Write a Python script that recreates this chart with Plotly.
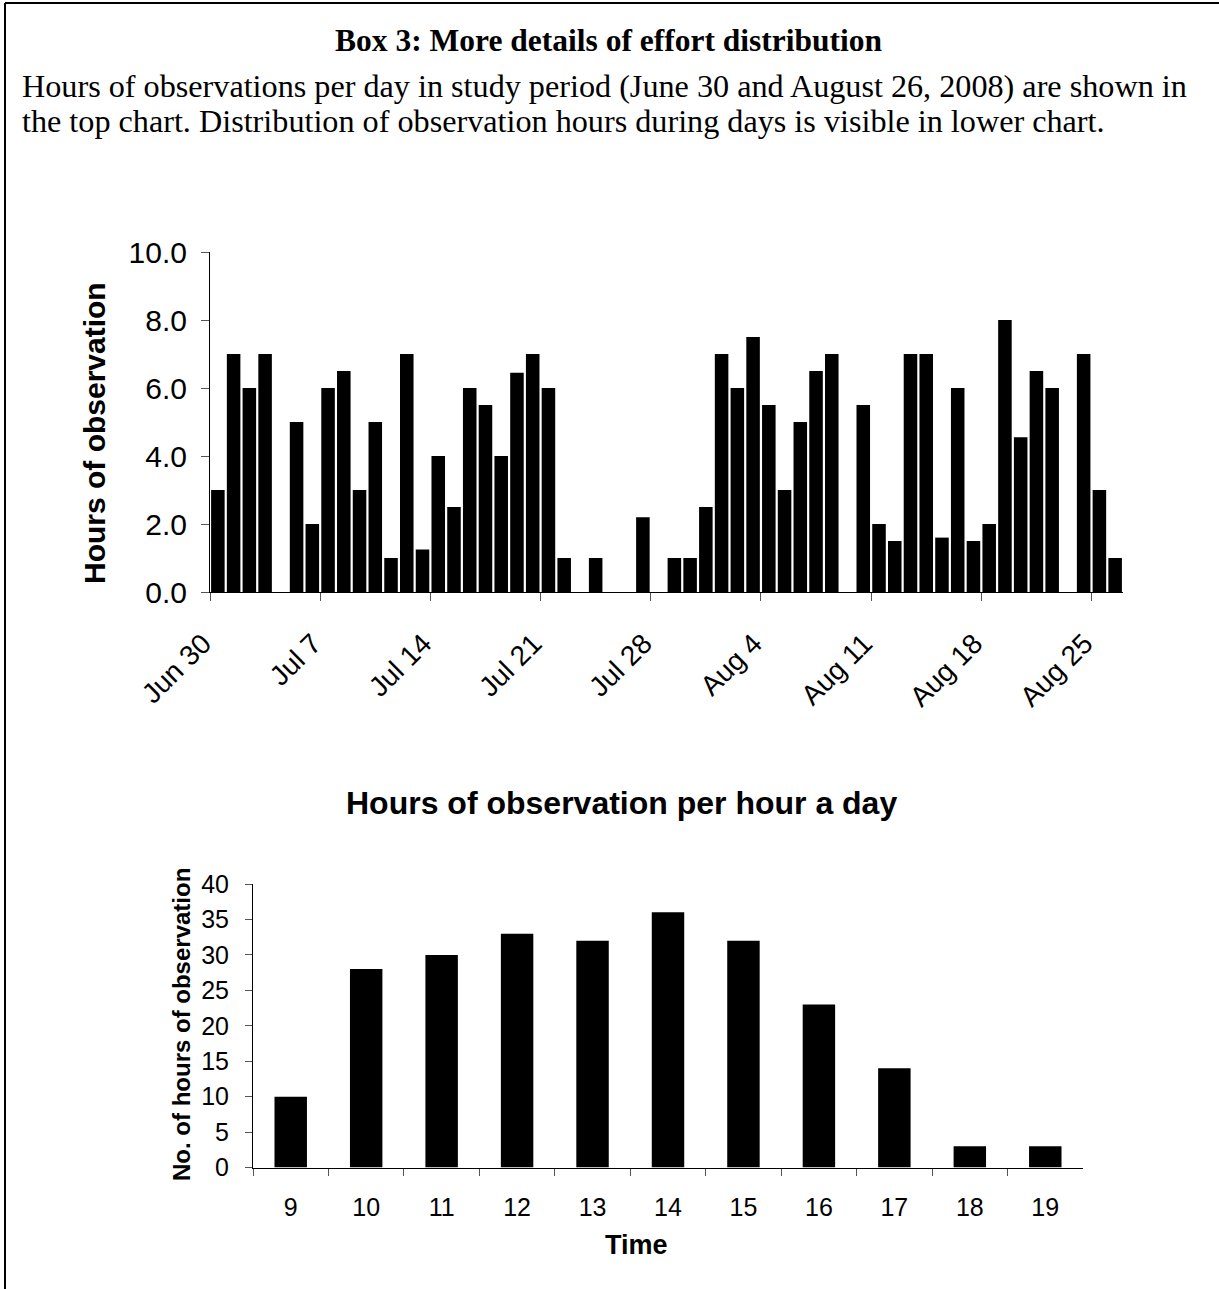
import pandas as pd
import plotly.graph_objects as go

W, H = 1219, 1289

# ---- daily effort, 30 Jun - 26 Aug 2008 ----
days = pd.date_range("2008-06-30", "2008-08-26", freq="D")
daily_hours = [
    3.0, 7.0, 6.0, 7.0, 0.0, 5.0, 2.0,      # Jun 30 - Jul 6
    6.0, 6.5, 3.0, 5.0, 1.0, 7.0, 1.25,     # Jul 7 - Jul 13
    4.0, 2.5, 6.0, 5.5, 4.0, 6.45, 7.0,     # Jul 14 - Jul 20
    6.0, 1.0, 0.0, 1.0, 0.0, 0.0, 2.2,      # Jul 21 - Jul 27
    0.0, 1.0, 1.0, 2.5, 7.0, 6.0, 7.5,      # Jul 28 - Aug 3
    5.5, 3.0, 5.0, 6.5, 7.0, 0.0, 5.5,      # Aug 4 - Aug 10
    2.0, 1.5, 7.0, 7.0, 1.6, 6.0, 1.5,      # Aug 11 - Aug 17
    2.0, 8.0, 4.55, 6.5, 6.0, 0.0, 7.0,     # Aug 18 - Aug 24
    3.0, 1.0,                               # Aug 25 - Aug 26
]
week_ticks = ["2008-06-30", "2008-07-07", "2008-07-14", "2008-07-21", "2008-07-28",
              "2008-08-04", "2008-08-11", "2008-08-18", "2008-08-25"]
week_labels = ["Jun 30", "Jul 7", "Jul 14", "Jul 21", "Jul 28",
               "Aug 4", "Aug 11", "Aug 18", "Aug 25"]

# ---- observation hours by hour of day ----
hour_of_day = ["9", "10", "11", "12", "13", "14", "15", "16", "17", "18", "19"]
hours_per_hour = [10, 28, 30, 33, 32, 36, 32, 23, 14, 3, 3]

SANS = "Liberation Sans, Arial, sans-serif"
SERIF = "Liberation Serif, Times New Roman, serif"


def fx(p):
    return p / W


def fy(p):
    return 1 - p / H


fig = go.Figure()

fig.add_trace(go.Bar(
    x=days, y=daily_hours,
    xperiod=86400000, xperiodalignment="middle",
    width=0.86 * 86400000,
    marker=dict(color="black", line=dict(width=0)),
    xaxis="x", yaxis="y", showlegend=False,
))

fig.add_trace(go.Bar(
    x=hour_of_day, y=hours_per_hour,
    width=0.43,
    marker=dict(color="black", line=dict(width=0)),
    xaxis="x2", yaxis="y2", showlegend=False,
))

axis_common = dict(showgrid=False, zeroline=False, showline=True,
                   linecolor="black", linewidth=1, ticks="outside",
                   tickcolor="#555555", tickwidth=1, automargin=False)

fig.update_layout(
    width=W, height=H, autosize=False,
    margin=dict(l=0, r=0, t=0, b=0, pad=0),
    paper_bgcolor="white", plot_bgcolor="white",
    showlegend=False,
    xaxis=dict(
        domain=[fx(210), fx(1123)], anchor="y", type="date",
        range=["2008-06-30", "2008-08-27"],
        tickmode="array", tickvals=week_ticks, ticktext=week_labels,
        tickangle=-45, ticklen=8, ticklabelstandoff=15, ticklabelshift=-7,
        tickfont=dict(family=SANS, size=28, color="black"),
        **axis_common,
    ),
    yaxis=dict(
        domain=[fy(592), fy(252)], anchor="x",
        range=[0, 10], dtick=2, tick0=0, tickformat=".1f", ticklen=8,
        ticklabelstandoff=8,
        tickfont=dict(family=SANS, size=30, color="black"),
        **axis_common,
    ),
    xaxis2=dict(
        domain=[fx(253), fx(1083)], anchor="y2", type="category",
        range=[-0.5, 10.5], tickson="boundaries", ticklen=7,
        ticklabelstandoff=17,
        tickfont=dict(family=SANS, size=25, color="black"),
        **axis_common,
    ),
    yaxis2=dict(
        domain=[fy(1167.6), fy(884)], anchor="x2",
        range=[0, 40], dtick=5, tick0=0, ticklen=7,
        ticklabelstandoff=11,
        tickfont=dict(family=SANS, size=25, color="black"),
        **axis_common,
    ),
)

notes = [
    dict(text="<b>Box 3: More details of effort distribution</b>",
         x=fx(609), y=fy(40), xanchor="center", yanchor="middle",
         font=dict(family=SERIF, size=31.5, color="black")),
    dict(text="Hours of observations per day in study period (June 30 and August 26, 2008) are shown in",
         x=fx(20), y=fy(86), xanchor="left", yanchor="middle",
         font=dict(family=SERIF, size=32.2, color="black")),
    dict(text="the top chart. Distribution of observation hours during days is visible in lower chart.",
         x=fx(20), y=fy(120.5), xanchor="left", yanchor="middle",
         font=dict(family=SERIF, size=32.2, color="black")),
    dict(text="<b>Hours of observation</b>",
         x=fx(94), y=fy(433), xanchor="center", yanchor="middle", textangle=-90,
         font=dict(family=SANS, size=30, color="black")),
    dict(text="<b>Hours of observation per hour a day</b>",
         x=fx(621), y=fy(803), xanchor="center", yanchor="middle",
         font=dict(family=SANS, size=32, color="black")),
    dict(text="<b>No. of hours of observation</b>",
         x=fx(181), y=fy(1025), xanchor="center", yanchor="middle", textangle=-90,
         font=dict(family=SANS, size=24, color="black")),
    dict(text="<b>Time</b>",
         x=fx(636), y=fy(1245), xanchor="center", yanchor="middle",
         font=dict(family=SANS, size=27, color="black")),
]
for n in notes:
    fig.add_annotation(xref="paper", yref="paper", showarrow=False, **n)

# box frame: top and left edges
fig.add_shape(type="line", xref="paper", yref="paper",
              x0=fx(5), x1=1, y0=fy(3), y1=fy(3),
              line=dict(color="black", width=2))
fig.add_shape(type="line", xref="paper", yref="paper",
              x0=fx(5), x1=fx(5), y0=fy(3), y1=0,
              line=dict(color="black", width=2))

fig.write_html("out.html")
